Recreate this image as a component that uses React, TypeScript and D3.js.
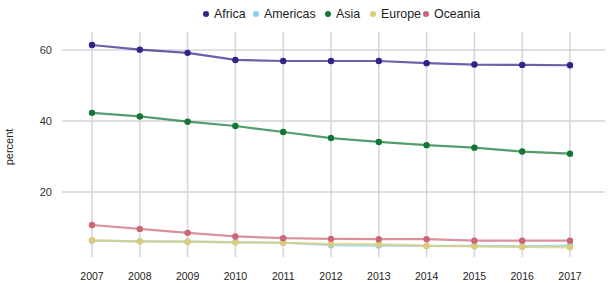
import React from 'react';
import * as d3 from 'd3';

const years = [2007, 2008, 2009, 2010, 2011, 2012, 2013, 2014, 2015, 2016, 2017];
const regions = ['Africa', 'Americas', 'Asia', 'Europe', 'Oceania'];
const africa = [61.4, 60.1, 59.2, 57.2, 56.9, 56.9, 56.9, 56.3, 55.9, 55.8, 55.7];
const americas = [6.3, 6.1, 6.0, 5.9, 5.7, 5.0, 4.9, 4.8, 4.8, 4.7, 4.9];
const asia = [42.3, 41.3, 39.8, 38.6, 36.9, 35.2, 34.1, 33.2, 32.5, 31.4, 30.8];
const europe = [6.4, 6.1, 6.0, 5.8, 5.7, 5.4, 5.3, 4.8, 4.7, 4.5, 4.4];
const oceania = [10.7, 9.6, 8.5, 7.5, 7.0, 6.8, 6.7, 6.7, 6.3, 6.3, 6.3];
const yTicks = [20, 40, 60];
const colors = ['#332288', '#88CCEE', '#117733', '#DDCC77', '#CC6677'];

// draw order: bottom lines first so yellow sits above blue
const seriesList = [
  { name: 'Americas', values: americas, color: colors[1] },
  { name: 'Europe', values: europe, color: colors[3] },
  { name: 'Oceania', values: oceania, color: colors[4] },
  { name: 'Asia', values: asia, color: colors[2] },
  { name: 'Africa', values: africa, color: colors[0] },
];

const W = 611;
const H = 283;
const font = 'Liberation Sans, Arial, sans-serif';

export default function App() {
  const x = d3.scaleLinear().domain([2007, 2017]).range([92, 570]);
  const y = d3.scaleLinear().domain([20, 60]).range([192, 50]);
  const line = d3
    .line<number>()
    .x((_, i) => x(years[i]))
    .y((d) => y(d));

  // legend layout
  const legendX = [206, 256, 328, 373, 426];

  return (
    <svg width={W} height={H} style={{ position: 'absolute', left: 0, top: 0, background: '#fff' }} fontFamily={font}>
      {/* grid */}
      {yTicks.map((t) => (
        <g key={t}>
          <line x1={62} x2={605} y1={y(t)} y2={y(t)} stroke="#d4d4dc" strokeWidth={1.5} />
          <text x={52} y={y(t)} dy="0.35em" textAnchor="end" fontSize={11} fill="#333">
            {t}
          </text>
        </g>
      ))}
      {years.map((yr) => (
        <g key={yr}>
          <line x1={x(yr)} x2={x(yr)} y1={32} y2={257} stroke="#d4d4dc" strokeWidth={1.5} />
          <text x={x(yr)} y={280} textAnchor="middle" fontSize={10.5} fill="#222">
            {yr}
          </text>
        </g>
      ))}
      <text transform="translate(13,147) rotate(-90)" textAnchor="middle" fontSize={11} fill="#222">
        percent
      </text>

      {/* series */}
      {seriesList.map((s) => (
        <g key={s.name}>
          <path d={line(s.values) ?? ''} fill="none" stroke={s.color} strokeWidth={2.2} strokeOpacity={0.72} />
          {s.values.map((v, i) => (
            <circle key={i} cx={x(years[i])} cy={y(v)} r={3.2} fill={s.color} />
          ))}
        </g>
      ))}

      {/* legend */}
      {regions.map((r, i) => (
        <g key={r}>
          <circle cx={legendX[i]} cy={14} r={3} fill={colors[i]} />
          <text x={legendX[i] + 8} y={14} dy="0.35em" fontSize={12.4} fill="#222">
            {r}
          </text>
        </g>
      ))}
    </svg>
  );
}
